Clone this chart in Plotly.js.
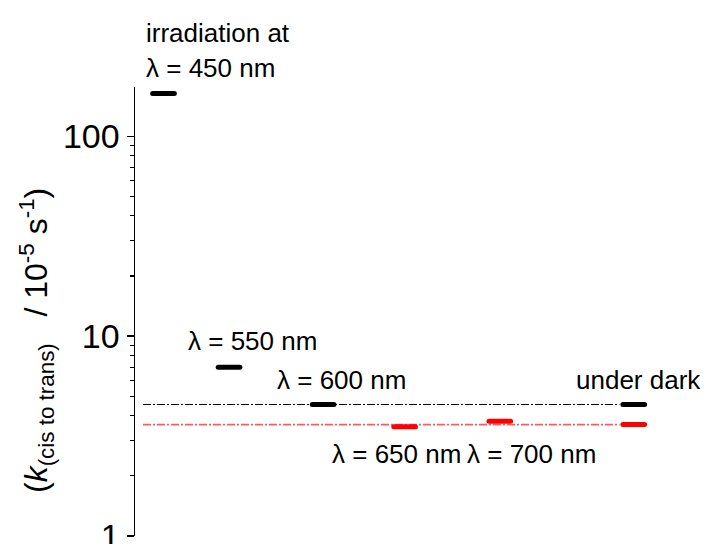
<!DOCTYPE html>
<html>
<head>
<meta charset="utf-8">
<script src="https://cdn.plot.ly/plotly-3.0.1.min.js"></script>
<style>
  html, body { margin: 0; padding: 0; background: #fff; }
  #chart { width: 705px; height: 544px; }
  /* rounded ends on the short level marks (traces 3 and 4) */
  .scatterlayer .trace:nth-child(n+3) .js-line { stroke-linecap: round; }
</style>
</head>
<body>
<div id="chart"></div>
<script>
// Rate constants k(cis→trans) in units of 1e-5 s^-1
const conditions   = ['λ = 450 nm', 'λ = 550 nm', 'λ = 600 nm', 'λ = 650 nm', 'λ = 700 nm', 'under dark'];
const positions    = [0.5, 1.65, 3.3, 4.73, 6.4, 8.75];

// black series (one value per condition, null where absent)
const kBlack = [164, 7.0, 4.55, null, null, 4.55];
// red series
const kRed   = [null, null, null, 3.52, 3.75, 3.61];

// reference levels measured in the dark
const darkLevelBlack = 4.55;
const darkLevelRed   = 3.61;
const levelSpan      = [0.14, 8.5];

const FONT = '"Liberation Sans", Arial, Helvetica, sans-serif';
const HALF = 0.19;   // half length of each level mark (x units), caps add the rest

// build a segmented line (one short horizontal dash per value)
function segments(pos, vals) {
  const x = [], y = [];
  pos.forEach((p, i) => {
    if (vals[i] == null) return;
    x.push(p - HALF, p + HALF, null);
    y.push(vals[i], vals[i], null);
  });
  return { x, y };
}

const segB = segments(positions, kBlack);
const segR = segments(positions, kRed);

const traces = [
  { x: levelSpan, y: [darkLevelBlack, darkLevelBlack], mode: 'lines',
    line: { color: '#000000', width: 1, dash: '8px,2px,2px,2px' }, hoverinfo: 'skip' },
  { x: levelSpan, y: [darkLevelRed, darkLevelRed], mode: 'lines',
    line: { color: '#ff5a5a', width: 1.6, dash: '8px,2px,2px,2px' }, hoverinfo: 'skip' },
  { x: segB.x, y: segB.y, mode: 'lines', connectgaps: false,
    line: { color: '#000000', width: 5 } },
  { x: segR.x, y: segR.y, mode: 'lines', connectgaps: false,
    line: { color: '#ff0000', width: 5 } }
];

// plot area geometry helpers for placing text labels
const L = 135, W = 570, T = 87, H = 449;
const px = v => (v - L) / W;
const py = v => (T + H - v) / H;

function label(text, xPix, yPix) {
  return { text, xref: 'paper', yref: 'paper', x: px(xPix), y: py(yPix),
           xanchor: 'left', yanchor: 'middle', showarrow: false,
           font: { family: FONT, size: 26, color: '#000' } };
}

const annotations = [
  label('irradiation at', 144, 33),
  label(conditions[0], 144, 67.5),
  label(conditions[1], 186, 341),
  label(conditions[2], 275, 380.5),
  label(conditions[3], 330, 454),
  label(conditions[4], 465, 454),
  label(conditions[5], 574, 379.5),
  { text: '(<i>k</i><sub>(cis to trans)</sub>\u00A0\u00A0\u00A0/ 10<sup>-5</sup> s<sup>-1</sup>)',
    xref: 'paper', yref: 'paper', x: px(36), y: py(340),
    xanchor: 'center', yanchor: 'middle', textangle: -90, showarrow: false,
    font: { family: FONT, size: 32, color: '#000' } }
];

const layout = {
  width: 705, height: 544,
  margin: { l: L, r: 705 - L - W, t: T, b: 544 - T - H, pad: 0 },
  paper_bgcolor: '#fff', plot_bgcolor: '#fff',
  showlegend: false,
  font: { family: FONT, color: '#000' },
  xaxis: { range: [0, 10], visible: false, fixedrange: true },
  yaxis: {
    type: 'log', range: [0, 2.247],
    tick0: 0, dtick: 1,
    showgrid: false, zeroline: false,
    showline: true, linecolor: '#000', linewidth: 1.5,
    ticks: 'outside', ticklen: 7, tickwidth: 1.5, tickcolor: '#000',
    ticklabeloverflow: 'allow',
    tickfont: { family: FONT, size: 34, color: '#000' },
    minor: { ticks: 'outside', ticklen: 4, tickwidth: 1.2, tickcolor: '#000', dtick: 'D1', showgrid: false }
  },
  annotations
};

Plotly.newPlot('chart', traces, layout, { staticPlot: true, displayModeBar: false });
</script>
</body>
</html>
